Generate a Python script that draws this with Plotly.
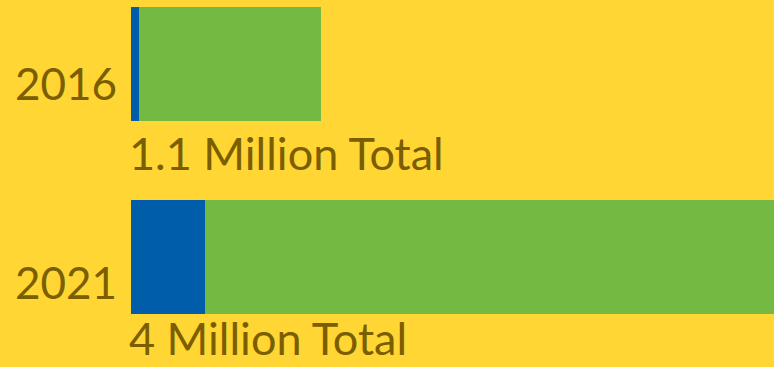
import plotly.graph_objects as go

years = ["2016", "2021"]
blue_vals = [0.045, 0.43]
green_vals = [1.055, 3.57]
total_labels = ["1.1 Million Total", "4 Million Total"]

BG = "#FFD633"
TXT = "#7A5E00"
FONT = "Lato"
H = 367
# vertical centre of each bar row in pixels from top (layout only)
row_px = [64, 257]

fig = go.Figure()
fig.add_trace(go.Bar(y=years, x=blue_vals, orientation="h", marker=dict(color="#005DAA", line=dict(width=0)), width=0.59, hoverinfo="skip"))
fig.add_trace(go.Bar(y=years, x=green_vals, orientation="h", marker=dict(color="#74B941", line=dict(width=0)), width=0.59, hoverinfo="skip"))

yshifts = [-19, -25]
for yr, rp, ys in zip(years, row_px, yshifts):
    fig.add_annotation(x=0, y=1 - rp / H, xref="paper", yref="paper", text=yr, showarrow=False,
                       xanchor="right", yanchor="middle", xshift=-12, yshift=ys,
                       font=dict(family=FONT, size=44, color=TXT))

# upper total label sits under the first bar
fig.add_annotation(x=0, y=1 - row_px[0] / H, xref="paper", yref="paper", text=total_labels[0],
                   showarrow=False, xanchor="left", yanchor="top", xshift=-4, yshift=-60,
                   font=dict(family=FONT, size=45, color=TXT))
# lower total label rests on the bottom edge of the canvas
fig.add_annotation(x=0, y=0, xref="paper", yref="paper", text=total_labels[1],
                   showarrow=False, xanchor="left", yanchor="bottom", xshift=-4, yshift=0,
                   font=dict(family=FONT, size=45, color=TXT))

fig.update_layout(
    barmode="stack", width=774, height=H,
    margin=dict(l=131, r=0, t=0, b=0),
    paper_bgcolor=BG, plot_bgcolor=BG, showlegend=False,
    xaxis=dict(range=[0, 3.72], showticklabels=False, showgrid=False, zeroline=False,
               showline=False, ticks="", fixedrange=True),
    yaxis=dict(type="category", categoryorder="array", categoryarray=["2021", "2016"],
               range=[-0.57, 1.3316], showticklabels=False, showgrid=False, zeroline=False,
               showline=False, ticks="", fixedrange=True),
)
fig.write_html("out.html")
